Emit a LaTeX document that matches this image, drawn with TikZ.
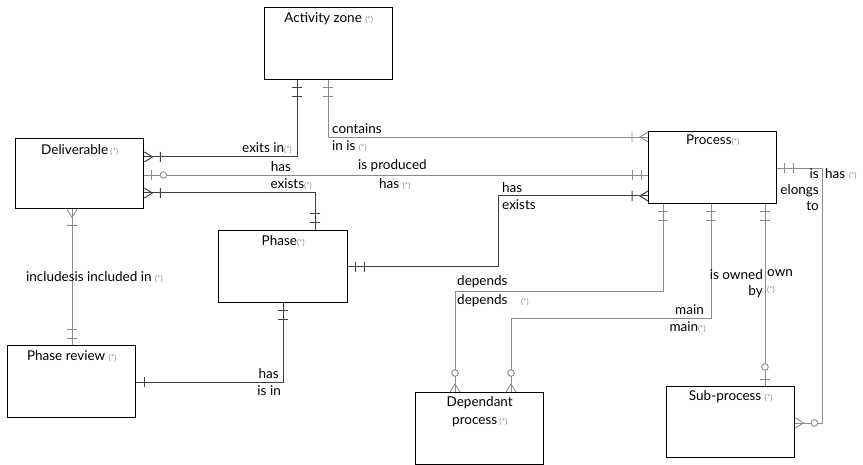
\documentclass[tikz,border=0pt]{standalone}
\usepackage{fontspec}
\setmainfont{Lato}
\usetikzlibrary{positioning}

% ---- ER end marks (tip at the entity border) ----
\pgfdeclarearrow{
  name=ERbar,
  parameters={\the\pgflinewidth},
  setup code={\pgfarrowssettipend{0pt}\pgfarrowssetlineend{0pt}\pgfarrowssetbackend{-10pt}},
  drawing code={%
    \pgfpathmoveto{\pgfqpoint{-8pt}{5pt}}\pgfpathlineto{\pgfqpoint{-8pt}{-5pt}}%
    \pgfusepathqstroke}
}
\pgfdeclarearrow{
  name=ERonly,
  parameters={\the\pgflinewidth},
  setup code={\pgfarrowssettipend{0pt}\pgfarrowssetlineend{0pt}\pgfarrowssetbackend{-18pt}},
  drawing code={%
    \pgfpathmoveto{\pgfqpoint{-7pt}{5pt}}\pgfpathlineto{\pgfqpoint{-7pt}{-5pt}}%
    \pgfpathmoveto{\pgfqpoint{-16pt}{5pt}}\pgfpathlineto{\pgfqpoint{-16pt}{-5pt}}%
    \pgfusepathqstroke}
}
\pgfdeclarearrow{
  name=ERmanyone,
  parameters={\the\pgflinewidth},
  setup code={\pgfarrowssettipend{0pt}\pgfarrowssetlineend{0pt}\pgfarrowssetbackend{-18pt}},
  drawing code={%
    \pgfpathmoveto{\pgfqpoint{0pt}{5pt}}\pgfpathlineto{\pgfqpoint{-8pt}{0pt}}%
    \pgfpathlineto{\pgfqpoint{0pt}{-5pt}}%
    \pgfpathmoveto{\pgfqpoint{-16pt}{5pt}}\pgfpathlineto{\pgfqpoint{-16pt}{-5pt}}%
    \pgfusepathqstroke}
}
\pgfdeclarearrow{
  name=ERmanyzero,
  parameters={\the\pgflinewidth},
  setup code={\pgfarrowssettipend{0pt}\pgfarrowssetlineend{0pt}\pgfarrowssetbackend{-24pt}},
  drawing code={%
    \pgfpathmoveto{\pgfqpoint{0pt}{5pt}}\pgfpathlineto{\pgfqpoint{-8pt}{0pt}}%
    \pgfpathlineto{\pgfqpoint{0pt}{-5pt}}%
    \pgfusepathqstroke
    \pgfpathcircle{\pgfqpoint{-19pt}{0pt}}{3.3pt}%
    \pgfsetfillcolor{white}\pgfusepathqfillstroke}
}
\pgfdeclarearrow{
  name=ERzeroone,
  parameters={\the\pgflinewidth},
  setup code={\pgfarrowssettipend{0pt}\pgfarrowssetlineend{0pt}\pgfarrowssetbackend{-24pt}},
  drawing code={%
    \pgfpathmoveto{\pgfqpoint{-7pt}{5pt}}\pgfpathlineto{\pgfqpoint{-7pt}{-5pt}}%
    \pgfusepathqstroke
    \pgfpathcircle{\pgfqpoint{-19pt}{0pt}}{3.3pt}%
    \pgfsetfillcolor{white}\pgfusepathqfillstroke}
}

\newcommand{\mk}{\textcolor{black!45}{\footnotesize(*)}}

\begin{document}
\begin{tikzpicture}[x=1pt, y=-1pt,
    entity/.style={draw, line width=1.4pt, anchor=north west, minimum width=128pt, minimum height=72pt, inner sep=0pt},
    ename/.style={font=\fontsize{13.5}{16}\selectfont, inner sep=1pt, align=center},
    lbl/.style={font=\fontsize{13.5}{16}\selectfont, inner sep=1pt},
    rel/.style={draw=black!75, line width=1pt},
    relg/.style={draw=black!45, line width=0.9pt},
]
\useasboundingbox (0,0) rectangle (863,465);

% ---- Entités ----
\node[entity] (az) at (264,7) {};
\node[entity, minimum height=70pt] (deliv) at (15,138) {};
\node[entity] (proc) at (648,131) {};
\node[entity, minimum width=129pt] (phase) at (218,230) {};
\node[entity] (prev) at (7,345) {};
\node[entity] (dep) at (415,392) {};
\node[entity, minimum height=71pt] (sub) at (666,386) {};

\node[ename, below=4pt of az.north] (azT) {Activity zone \mk};
\node[ename, below=5pt of deliv.north] (delivT) {Deliverable\,\mk};
\node[ename, below=3pt of proc.north] (procT) {Process\mk};
\node[ename, below=4pt of phase.north] (phaseT) {Phase\mk};
\node[ename, below=4pt of prev.north] (prevT) {Phase review \mk};
\node[ename, below=3pt of dep.north] (depT) {Dependant\\[2pt]process\,\mk};
\node[ename, below=3pt of sub.north] (subT) {Sub-process \mk};

% ---- Relations ----
\coordinate (k5) at (498,196);
\coordinate (k8) at (455,291);
\coordinate (k9) at (511,318);
\coordinate (k11) at (822,423);

\draw[rel, ERonly-ERmanyone] ([xshift=33pt]az.south west) |- ([yshift=-19pt]deliv.north east);
\draw[relg, ERonly-ERmanyone] ([xshift=64pt]az.south west) |- ([yshift=-6pt]proc.north west);
\draw[relg, ERzeroone-ERonly] ([yshift=-37pt]deliv.north east) -- ([yshift=-44pt]proc.north west);
\draw[rel, ERmanyone-ERonly] ([yshift=-55pt]deliv.north east) -| ([xshift=97pt]phase.north west);
\draw[rel, ERonly-ERmanyone] ([yshift=-37pt]phase.north east) -| (k5) -- ([yshift=-65pt]proc.north west);
\draw[relg, ERmanyone-ERonly] ([xshift=57pt]deliv.south west) -- ([xshift=65pt]prev.north west);
\draw[rel, ERbar-ERonly] ([yshift=-37pt]prev.north east) -| ([xshift=65pt]phase.south west);
\draw[relg, ERonly-ERmanyzero] ([xshift=15pt]proc.south west) |- (k8) -- ([xshift=40pt]dep.north west);
\draw[relg, ERonly-ERmanyzero] ([xshift=63pt]proc.south west) |- (k9) -- ([xshift=96pt]dep.north west);
\draw[relg, ERonly-ERzeroone] ([xshift=117pt]proc.south west) -- ([xshift=99pt]sub.north west);
\draw[relg, ERonly-ERmanyzero] ([yshift=-37pt]proc.north east) -| (k11) -- ([yshift=-37pt]sub.north east);

% ---- Rôles ----
\node[lbl, anchor=south east] (l1) at (293,155) {exits in\mk};
\node[lbl, anchor=south west] (l2a) at (331,135) {contains};
\node[lbl, anchor=north west] (l2b) at (331,139) {in is \mk};
\node[lbl, anchor=south] (l3a) at (281,173) {has};
\node[lbl, anchor=south west] (l3b) at (357,173) {is produced};
\node[lbl, anchor=north west] (l3c) at (378,177) {has \mk};
\node[lbl, anchor=south east] (l4) at (313,191) {exists\mk};
\node[lbl, anchor=south west] (l5a) at (501,194) {has};
\node[lbl, anchor=north west] (l5b) at (501,198) {exists};
\node[lbl, anchor=west] (l6) at (25,277) {includesis included in \mk};
\node[lbl, anchor=south east] (l7a) at (280,380) {has};
\node[lbl, anchor=north east] (l7b) at (282,384) {is in};
\node[lbl, anchor=south west] (l8a) at (456,289) {depends};
\node[lbl, anchor=north west] (l8b) at (456,293) {depends\quad\mk};
\node[lbl, anchor=south east] (l9a) at (705,316) {main};
\node[lbl, anchor=north east] (l9b) at (707,320) {main\mk};
\node[lbl, anchor=north east, align=right] (l10a) at (764,268) {is owned\\by};
\node[lbl, anchor=north west, align=left] (l10b) at (766,268) {own\\\mk};
\node[lbl, anchor=north east, align=right] (l11a) at (820,167) {is\\elongs\\to};
\node[lbl, anchor=north west] (l11b) at (824,167) {has \mk};

\end{tikzpicture}
\end{document}
